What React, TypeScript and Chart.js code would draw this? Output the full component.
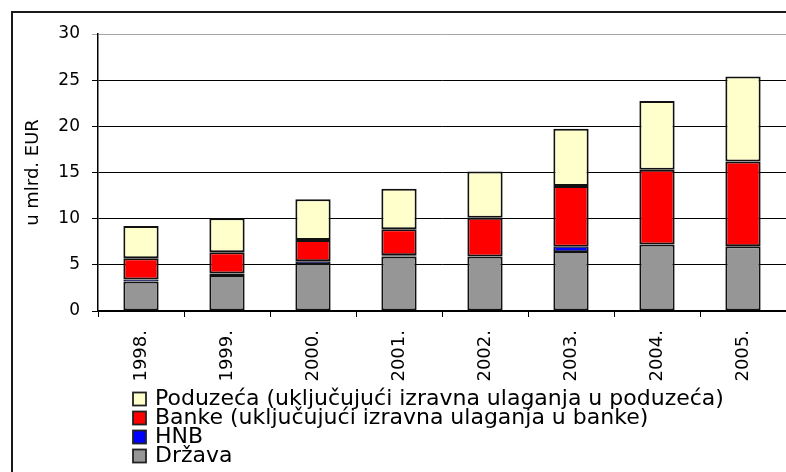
import React, { useEffect, useRef } from 'react';
import { Chart, registerables } from 'chart.js';

Chart.register(...registerables);

const categories = ['1998.', '1999.', '2000.', '2001.', '2002.', '2003.', '2004.', '2005.'];
const drzava = [3.2, 3.9, 5.2, 5.9, 5.9, 6.5, 7.2, 7.0];
const hnb = [0.2, 0.15, 0.2, 0.15, 0, 0.45, 0, 0];
const banke = [2.3, 2.3, 2.3, 2.8, 4.2, 6.6, 8.1, 9.2];
const poduzeca = [3.5, 3.7, 4.4, 4.4, 5.0, 6.2, 7.45, 9.2];
const yTicks = [0, 5, 10, 15, 20, 25, 30];

const seriesLabels = [
  'Država',
  'HNB',
  'Banke (uključujući izravna ulaganja u banke)',
  'Poduzeća (uključujući izravna ulaganja u poduzeća)',
];
const seriesColors = ['#969696', '#0000ff', '#ff0000', '#ffffcc'];

const FONT = 'DejaVu Sans';

const framePlugin = {
  id: 'frame',
  beforeDraw(chart: any) {
    const ctx = chart.ctx;
    ctx.save();
    ctx.strokeStyle = '#1a1a1a';
    ctx.lineWidth = 2;
    ctx.beginPath();
    ctx.moveTo(12, chart.height);
    ctx.lineTo(12, 12);
    ctx.lineTo(chart.width, 12);
    ctx.stroke();
    ctx.restore();
  },
};

const legendPlugin = {
  id: 'stackLegend',
  afterDraw(chart: any) {
    const ctx = chart.ctx;
    const ds = chart.data.datasets.slice().reverse();
    const x0 = 133;
    const y0 = 399;
    const step = 19;
    ctx.save();
    ctx.font = `22px "${FONT}"`;
    ctx.textBaseline = 'middle';
    ctx.textAlign = 'left';
    ds.forEach((d: any, i: number) => {
      const cy = y0 + i * step;
      ctx.fillStyle = d.backgroundColor;
      ctx.fillRect(x0, cy - 6.5, 13, 13);
      ctx.strokeStyle = '#222';
      ctx.lineWidth = 1.8;
      ctx.strokeRect(x0, cy - 6.5, 13, 13);
      ctx.fillStyle = '#000';
      ctx.fillText(d.label, x0 + 22, cy);
    });
    ctx.restore();
  },
};

export default function App() {
  const canvasRef = useRef<HTMLCanvasElement | null>(null);

  useEffect(() => {
    if (!canvasRef.current) return;
    const values = [drzava, hnb, banke, poduzeca];
    const chart = new Chart(canvasRef.current, {
      type: 'bar',
      data: {
        labels: categories,
        datasets: values.map((v, i) => ({
          label: seriesLabels[i],
          data: v,
          backgroundColor: seriesColors[i],
          borderColor: '#111',
          borderWidth: i === 1 ? { top: 0.8, bottom: 0.8, left: 2, right: 2 } : 2,
          borderSkipped: false,
          barPercentage: 0.41,
          categoryPercentage: 1,
        })),
      },
      options: {
        animation: false,
        responsive: false,
        maintainAspectRatio: false,
        layout: { padding: { top: 34, left: 0, right: 0, bottom: 0 } },
        plugins: { legend: { display: false }, tooltip: { enabled: false } },
        scales: {
          x: {
            stacked: true,
            grid: {
              display: true,
              drawOnChartArea: false,
              drawTicks: true,
              tickLength: 6,
              color: '#000',
              offset: true,
            },
            border: { display: true, color: '#000', width: 1.5 },
            ticks: {
              minRotation: 90,
              maxRotation: 90,
              autoSkip: false,
              font: { family: FONT, size: 18 },
              color: '#000',
              padding: 13,
            },
            afterFit: (s: any) => {
              s.height = 161;
            },
          },
          y: {
            stacked: true,
            min: 0,
            max: 30,
            afterBuildTicks: (s: any) => {
              s.ticks = yTicks.map((v) => ({ value: v }));
            },
            grid: {
              color: (c: any) => (c.tick && c.tick.value === 30 ? '#a6a6a6' : '#000'),
              lineWidth: 1,
              tickLength: 6,
            },
            border: { display: true, color: '#000', width: 1.5 },
            ticks: { font: { family: FONT, size: 17 }, color: '#000', padding: 12 },
            title: {
              display: true,
              text: 'u mlrd. EUR',
              font: { family: FONT, size: 18 },
              color: '#000',
              padding: { top: 23, bottom: 0 },
            },
            afterFit: (s: any) => {
              s.width = 98;
            },
          },
        },
      },
      plugins: [framePlugin, legendPlugin],
    });
    return () => chart.destroy();
  }, []);

  return (
    <div style={{ position: 'absolute', left: 0, top: 0, width: 786, height: 472, overflow: 'hidden', background: '#fff' }}>
      <canvas ref={canvasRef} width={786} height={472} style={{ width: 786, height: 472 }} />
    </div>
  );
}
